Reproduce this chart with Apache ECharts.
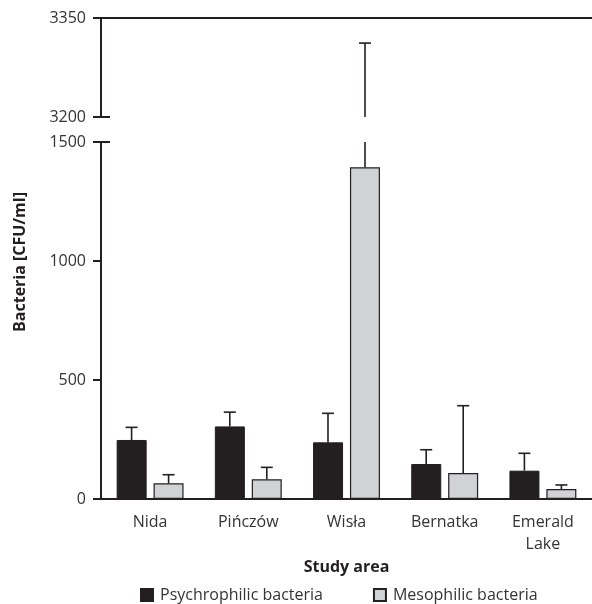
<!DOCTYPE html>
<html>
<head>
<meta charset="utf-8">
<script src="https://cdn.jsdelivr.net/npm/echarts@6/dist/echarts.min.js"></script>
<style>
  html, body { margin: 0; padding: 0; background: #fff; }
  #chart { width: 592px; height: 604px; }
</style>
</head>
<body>
<div id="chart"></div>
<script>
// study areas
const categories = ['Nida', 'Pińczów', 'Wisła', 'Bernatka', 'Emerald\nLake']

// means and standard deviations (CFU/ml)
const psychroMean = [248, 305, 238, 147, 119]
const psychroSD = [53, 60, 122, 60, 73]
const mesoMean = [66, 83, 1394, 109, 42]
const mesoSD = [36, 50, 1918, 283, 17]

// the two parts of the broken y axis
const lowerTicks = [0, 500, 1000, 1500]
const upperTicks = [3200, 3350]

const INK = '#231f20'
const GREY = '#d1d2d4'
const FONT = 'Open Sans'
const barW = 30
const offset = 18.5 // half of (bar + gap)

const errData = (mean, sd) => mean.map((m, i) => [i, m, m + sd[i]])

// error bar on the lower part, cut at the axis max
function lowerErr(dx) {
  return (params, api) => {
    const cat = api.value(0), mean = api.value(1), hi = api.value(2)
    const yMax = lowerTicks[lowerTicks.length - 1]
    const top = Math.min(hi, yMax)
    const p0 = api.coord([cat, mean])
    const p1 = api.coord([cat, top])
    const x = p0[0] + dx
    const children = [{
      type: 'line',
      shape: { x1: x, y1: p0[1], x2: x, y2: p1[1] },
      style: { stroke: INK, lineWidth: 1.6 }
    }]
    if (hi <= yMax) {
      children.push({
        type: 'line',
        shape: { x1: x - 6, y1: p1[1], x2: x + 6, y2: p1[1] },
        style: { stroke: INK, lineWidth: 1.6 }
      })
    }
    return { type: 'group', children }
  }
}

// error bar on the upper part, only when it reaches there
function upperErr(dx) {
  return (params, api) => {
    const cat = api.value(0), mean = api.value(1), hi = api.value(2)
    const yMin = upperTicks[0]
    if (hi < yMin) return null
    const p0 = api.coord([cat, Math.max(mean, yMin)])
    const p1 = api.coord([cat, hi])
    const x = p0[0] + dx
    return {
      type: 'group',
      children: [
        { type: 'line', shape: { x1: x, y1: p0[1], x2: x, y2: p1[1] }, style: { stroke: INK, lineWidth: 1.6 } },
        { type: 'line', shape: { x1: x - 6, y1: p1[1], x2: x + 6, y2: p1[1] }, style: { stroke: INK, lineWidth: 1.6 } }
      ]
    }
  }
}

const chart = echarts.init(document.getElementById('chart'))

const axisLineStyle = { color: INK, width: 2 }
const labelStyle = { color: '#333', fontSize: 16, fontFamily: FONT }
const plain = v => String(v)

chart.setOption({
  animation: false,
  textStyle: { fontFamily: FONT },
  grid: [
    { left: 101, right: -2, top: 142, bottom: 105 },
    { left: 101, right: -2, top: 18, height: 99 }
  ],
  xAxis: [
    {
      gridIndex: 0,
      type: 'category',
      data: categories,
      axisLine: { lineStyle: axisLineStyle },
      axisTick: { alignWithLabel: true, length: 7, lineStyle: { color: INK, width: 2 } },
      axisLabel: { ...labelStyle, margin: 12, lineHeight: 22 },
      name: 'Study area',
      nameLocation: 'middle',
      nameGap: 52,
      nameTextStyle: { color: INK, fontSize: 16, fontWeight: 'bold', fontFamily: FONT }
    },
    {
      gridIndex: 1,
      type: 'category',
      data: categories,
      position: 'top',
      axisLine: { lineStyle: axisLineStyle },
      axisTick: { show: false },
      axisLabel: { show: false }
    }
  ],
  yAxis: [
    {
      gridIndex: 0,
      type: 'value',
      min: lowerTicks[0],
      max: lowerTicks[lowerTicks.length - 1],
      interval: 500,
      axisLine: { show: true, lineStyle: axisLineStyle },
      axisTick: { show: true, length: 8, lineStyle: { color: INK, width: 2 } },
      axisLabel: { ...labelStyle, margin: 15, formatter: plain },
      splitLine: { show: false }
    },
    {
      gridIndex: 1,
      type: 'value',
      min: upperTicks[0],
      max: upperTicks[1],
      interval: 150,
      axisLine: { show: true, lineStyle: axisLineStyle },
      axisTick: { show: true, length: 8, lineStyle: { color: INK, width: 2 } },
      axisLabel: { ...labelStyle, margin: 15, formatter: plain },
      splitLine: { show: false }
    },
    // break caps pointing into the plot
    {
      gridIndex: 0,
      type: 'value',
      min: lowerTicks[0],
      max: lowerTicks[lowerTicks.length - 1],
      position: 'left',
      axisLine: { show: false },
      axisTick: { show: true, inside: true, length: 9, customValues: [1500], lineStyle: { color: INK, width: 2 } },
      axisLabel: { show: false },
      splitLine: { show: false }
    },
    {
      gridIndex: 1,
      type: 'value',
      min: upperTicks[0],
      max: upperTicks[1],
      position: 'left',
      axisLine: { show: false },
      axisTick: { show: true, inside: true, length: 9, customValues: [3200], lineStyle: { color: INK, width: 2 } },
      axisLabel: { show: false },
      splitLine: { show: false }
    }
  ],
  legend: {
    data: [
      { name: 'Psychrophilic bacteria', icon: 'rect' },
      { name: 'Mesophilic bacteria', icon: 'rect' }
    ],
    bottom: 1,
    left: 140,
    padding: 0,
    itemWidth: 12,
    itemHeight: 12,
    itemGap: 50,
    textStyle: { color: '#333', fontSize: 16, fontFamily: FONT, padding: [0, 0, 0, 2] }
  },
  graphic: [{
    type: 'text',
    rotation: Math.PI / 2,
    x: 20,
    y: 262,
    style: {
      text: 'Bacteria [CFU/ml]',
      fill: INK,
      font: 'bold 16px "Open Sans"',
      align: 'center',
      verticalAlign: 'middle'
    }
  }],
  series: [
    {
      name: 'Psychrophilic bacteria',
      type: 'bar',
      xAxisIndex: 0,
      yAxisIndex: 0,
      data: psychroMean,
      barWidth: barW,
      barGap: '23%',
      itemStyle: { color: INK, borderColor: INK, borderWidth: 1 }
    },
    {
      name: 'Mesophilic bacteria',
      type: 'bar',
      xAxisIndex: 0,
      yAxisIndex: 0,
      data: mesoMean,
      barWidth: barW,
      barGap: '23%',
      itemStyle: { color: GREY, borderColor: INK, borderWidth: 1.2 }
    },
    { type: 'custom', xAxisIndex: 0, yAxisIndex: 0, data: errData(psychroMean, psychroSD), renderItem: lowerErr(-offset), z: 1 },
    { type: 'custom', xAxisIndex: 0, yAxisIndex: 0, data: errData(mesoMean, mesoSD), renderItem: lowerErr(offset), z: 1 },
    { type: 'custom', xAxisIndex: 1, yAxisIndex: 1, data: errData(psychroMean, psychroSD), renderItem: upperErr(-offset), z: 1 },
    { type: 'custom', xAxisIndex: 1, yAxisIndex: 1, data: errData(mesoMean, mesoSD), renderItem: upperErr(offset), z: 1 }
  ]
})
</script>
</body>
</html>
